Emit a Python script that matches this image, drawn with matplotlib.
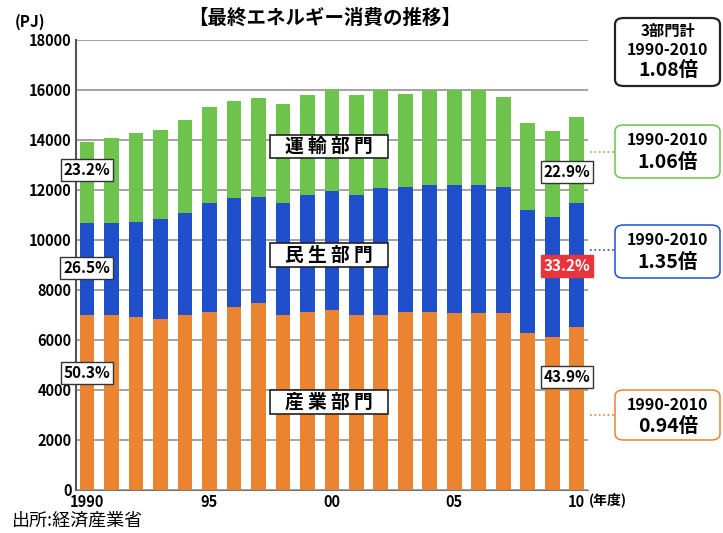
import matplotlib.pyplot as plt
from matplotlib.lines import Line2D
from matplotlib.patches import Rectangle, FancyBboxPatch
import numpy as np

plt.rcParams['font.family'] = ['Noto Sans CJK JP', 'DejaVu Sans']

# 年度
years = list(range(1990, 2011))
# 部門別 最終エネルギー消費 (PJ)
industry = [7000, 7000, 6920, 6840, 7000, 7120, 7320, 7480, 7000, 7120, 7200,
            7000, 7000, 7120, 7120, 7080, 7080, 7080, 6280, 6120, 6520]
residential = [3680, 3680, 3800, 4000, 4080, 4360, 4360, 4240, 4480, 4680, 4760,
               4800, 5080, 5000, 5080, 5120, 5120, 5040, 4920, 4800, 4960]
transport = [3220, 3400, 3560, 3560, 3720, 3840, 3880, 3960, 3960, 4000, 4080,
             4000, 3920, 3720, 3800, 3800, 3800, 3600, 3480, 3440, 3440]

tick_years = [1990, 1995, 2000, 2005, 2010]
tick_labels = ['1990', '95', '00', '05', '10']

sectors = ['運 輸 部 門', '民 生 部 門', '産 業 部 門']
share_1990 = ['23.2%', '26.5%', '50.3%']
share_2010 = ['22.9%', '33.2%', '43.9%']
ratios = ['1.06倍', '1.35倍', '0.94倍']
total_ratio = '1.08倍'

c_ind = '#EA8430'
c_res = '#1F4FCB'
c_tra = '#6DC34B'

W, H = 723, 533


def fx(px):
    return px / W


def fy(py):
    return 1 - py / H


fig = plt.figure(figsize=(7.23, 5.33), dpi=100)
ax = fig.add_axes([0.105, 0.081, 0.708, 0.844])

ind = np.array(industry)
res = np.array(residential)
tra = np.array(transport)

w = 0.6
ax.bar(years, ind, width=w, color=c_ind, zorder=2)
ax.bar(years, res, width=w, bottom=ind, color=c_res, zorder=2)
ax.bar(years, tra, width=w, bottom=ind + res, color=c_tra, zorder=2)

ax.set_xlim(1989.55, 2010.45)
ax.set_ylim(0, 18000)
ax.set_yticks(range(0, 18001, 2000))
ax.set_yticklabels([str(v) for v in range(0, 18001, 2000)], fontweight='bold', fontsize=10.5)
ax.set_xticks(tick_years)
ax.set_xticklabels(tick_labels, fontweight='bold', fontsize=10.5)
ax.tick_params(length=0, pad=3)
ax.yaxis.grid(True, color='#8a8a8a', linewidth=1.1, zorder=1)
ax.set_axisbelow(True)
for s in ['top', 'right']:
    ax.spines[s].set_visible(False)
ax.spines['left'].set_color('#555555')
ax.spines['bottom'].set_color('#777777')
ax.spines['left'].set_linewidth(1.5)

fig.text(fx(589), fy(500), '(年度)', fontsize=10, fontweight='bold', ha='left', va='center')

# 部門ラベル (枠は固定サイズ)
for (y0, y1), t in zip([(135, 158), (243, 267), (390, 414)], sectors):
    fig.add_artist(Rectangle((fx(270), fy(y1)), fx(388) - fx(270), fy(y0) - fy(y1),
                             transform=fig.transFigure, facecolor='white',
                             edgecolor='#222222', linewidth=1.2, zorder=5))
    fig.text(fx(329), fy((y0 + y1) / 2), t, fontsize=13.5, fontweight='bold',
             ha='center', va='center', zorder=6)

# シェア
pbox = dict(boxstyle='square,pad=0.2', facecolor='white', edgecolor='#333333', linewidth=1)
for y, t in zip([12800, 8880, 4680], share_1990):
    ax.text(1990.0, y, t, fontsize=11, fontweight='bold', ha='center', va='center', bbox=pbox, zorder=4)
for y, t in zip([12720, 8960, 4520], share_2010):
    if t == '33.2%':
        rb = dict(boxstyle='square,pad=0.2', facecolor='#E8343A', edgecolor='#E8343A')
        ax.text(2009.6, y, t, fontsize=11, fontweight='bold', color='white', ha='center', va='center', bbox=rb, zorder=4)
    else:
        ax.text(2009.6, y, t, fontsize=11, fontweight='bold', ha='center', va='center', bbox=pbox, zorder=4)

# タイトル等
fig.text(fx(325), fy(18), '【最終エネルギー消費の推移】', fontsize=14, fontweight='bold', ha='center', va='center')
fig.text(fx(30), fy(22), '(PJ)', fontsize=11, fontweight='bold', ha='center', va='center')
fig.text(fx(12), fy(521), '出所:経済産業省', fontsize=13, ha='left', va='center')

# 右側の倍率ボックス
def rbox(x0, y0, x1, y1, col, lw):
    fig.add_artist(FancyBboxPatch((fx(x0), fy(y1)), fx(x1) - fx(x0), fy(y0) - fy(y1),
                                  boxstyle='round,pad=0,rounding_size=0.012',
                                  transform=fig.transFigure, facecolor='white',
                                  edgecolor=col, linewidth=lw))

rbox(615, 18, 720, 86, '#222222', 1.6)
fig.text(fx(668), fy(31), '3部門計', fontsize=11, fontweight='bold', ha='center', va='center')
fig.text(fx(668), fy(50), '1990-2010', fontsize=11.5, fontweight='bold', ha='center', va='center')
fig.text(fx(668), fy(71), total_ratio, fontsize=14, fontweight='bold', ha='center', va='center')

for (y0, y1), col, r in zip([(125, 178), (225, 278), (390, 440)], [c_tra, c_res, c_ind], ratios):
    rbox(615, y0, 720, y1, col, 1.1)
    fig.text(fx(668), fy(y0 + 15), '1990-2010', fontsize=11.5, fontweight='bold', ha='center', va='center')
    fig.text(fx(668), fy(y0 + 37), r, fontsize=14, fontweight='bold', ha='center', va='center')

for yl, col in zip([152, 250, 415], [c_tra, c_res, c_ind]):
    fig.add_artist(Line2D([fx(590), fx(614)], [fy(yl), fy(yl)],
                          color=col, linestyle=':', linewidth=1.2))

fig.savefig('out.png', dpi=100)
